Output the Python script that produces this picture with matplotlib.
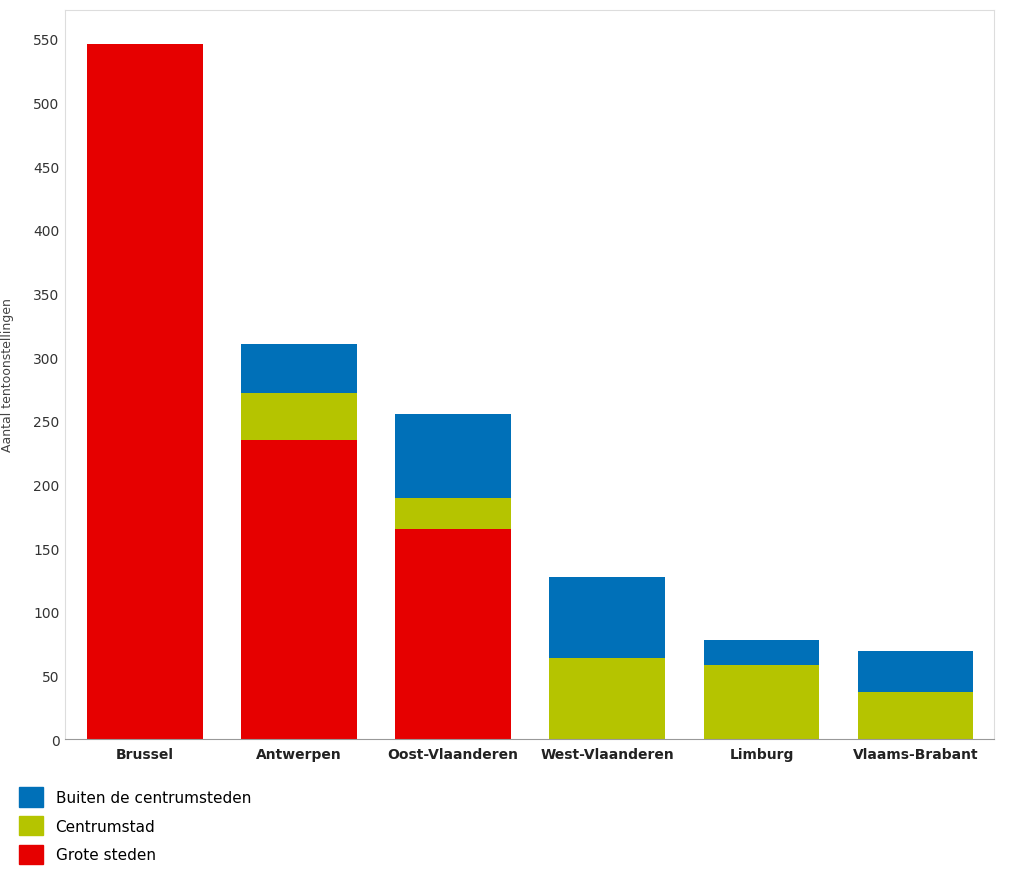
import matplotlib.pyplot as plt
from matplotlib.patches import Patch

provincies = ['Brussel', 'Antwerpen', 'Oost-Vlaanderen', 'West-Vlaanderen', 'Limburg', 'Vlaams-Brabant']
grote_steden = [546, 235, 165, 0, 0, 0]
centrumstad = [0, 37, 24, 64, 58, 37]
buiten = [0, 38, 66, 63, 20, 32]

rood = '#e60000'
groen = '#b5c400'
blauw = '#0070b8'

fig = plt.figure(figsize=(10.24, 8.79), dpi=100)
ax = fig.add_axes([0.063, 0.158, 0.908, 0.83])

x = range(len(provincies))
w = 0.75
ax.bar(x, grote_steden, w, color=rood)
ax.bar(x, centrumstad, w, bottom=grote_steden, color=groen)
onder = [a + b for a, b in zip(grote_steden, centrumstad)]
ax.bar(x, buiten, w, bottom=onder, color=blauw)

ax.set_xlim(-0.52, 5.51)
ax.set_ylim(0, 573)
ax.set_yticks(range(0, 551, 50))
ax.set_xticks(list(x))
ax.set_xticklabels(provincies, fontweight='bold', fontsize=10, color='#222222')
ax.tick_params(axis='y', length=0, labelsize=10, colors='#333333')
ax.tick_params(axis='x', length=0, pad=6)
for s in ax.spines.values():
    s.set_color('#dddddd')
ax.spines['bottom'].set_color('#999999')
ax.set_ylabel('Aantal tentoonstellingen', fontsize=9, color='#444444', labelpad=14)

handles = [Patch(color=blauw), Patch(color=groen), Patch(color=rood)]
fig.legend(handles, ['Buiten de centrumsteden', 'Centrumstad', 'Grote steden'],
           loc='lower left', bbox_to_anchor=(0.005, 0.0), frameon=False, fontsize=11,
           handlelength=1.6, handleheight=1.6, labelspacing=0.6)

fig.savefig('out.png', dpi=100)
